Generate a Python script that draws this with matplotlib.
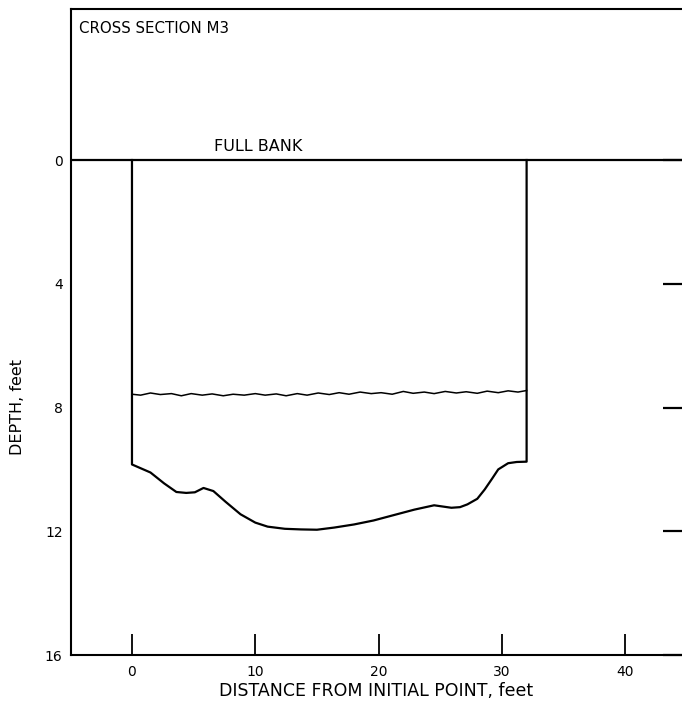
import numpy as np
import matplotlib
matplotlib.use('Agg')
import matplotlib.pyplot as plt

plt.rcParams['font.family'] = ['DejaVu Sans']

# channel bed (distance, depth)
bed_x = [0, 0, 1.5, 2.6, 3.6, 4.4, 5.1, 5.8, 6.6, 7.6, 8.8, 10.0, 11.0, 12.4, 13.7,
         15.0, 16.4, 18.0, 19.6, 21.2, 22.9, 24.5, 25.9, 26.6, 27.2, 28.0, 28.6,
         29.2, 29.7, 30.5, 31.2, 32.0, 32.0]
bed_depth = [0, 9.84, 10.1, 10.45, 10.73, 10.76, 10.74, 10.6, 10.7, 11.05, 11.45, 11.72,
             11.85, 11.92, 11.94, 11.95, 11.88, 11.78, 11.65, 11.48, 11.3, 11.16, 11.24,
             11.22, 11.13, 10.95, 10.65, 10.3, 10.0, 9.8, 9.76, 9.75, 0]

# water surface, slightly wavy
ws_x = [0, 0.7, 1.5, 2.3, 3.2, 4.0, 4.8, 5.7, 6.5, 7.4, 8.2, 9.1, 10.0, 10.8, 11.7,
        12.5, 13.4, 14.2, 15.1, 16.0, 16.8, 17.6, 18.5, 19.4, 20.2, 21.1, 22.0,
        22.8, 23.7, 24.5, 25.4, 26.3, 27.1, 28.0, 28.8, 29.7, 30.5, 31.3, 32.0]
ws_depth = [7.57, 7.6, 7.53, 7.58, 7.55, 7.62, 7.55, 7.6, 7.56, 7.62, 7.57, 7.6, 7.55,
            7.6, 7.56, 7.62, 7.55, 7.6, 7.53, 7.58, 7.52, 7.57, 7.5, 7.55, 7.52, 7.57,
            7.48, 7.54, 7.5, 7.55, 7.48, 7.53, 7.49, 7.54, 7.47, 7.52, 7.46, 7.5, 7.45]

xticks = [0, 10, 20, 30, 40]
yticks = [0, 4, 8, 12, 16]

fig = plt.figure(figsize=(6.82, 7.14), dpi=100)
ax = fig.add_axes([0.104, 0.0826, 0.896, 0.9047])

ax.axhline(0, color='black', lw=1.6)
ax.plot(bed_x, bed_depth, color='black', lw=1.6)
ax.plot(ws_x, ws_depth, color='black', lw=1.1)

ax.set_xlim(-4.95, 44.6)
ax.set_ylim(16, -4.88)

ax.set_xticks(xticks)
ax.set_yticks(yticks)
ax.tick_params(axis='x', direction='in', length=15, width=1.3, pad=7, labelsize=10)
ax.tick_params(axis='y', left=False, right=True, direction='in', length=14,
               width=1.6, pad=6, labelsize=10)

for s in ax.spines.values():
    s.set_linewidth(1.5)
ax.spines['right'].set_visible(False)

ax.text(0.014, 0.97, 'CROSS SECTION M3', transform=ax.transAxes, fontsize=10.8,
        va='center', ha='left')
ax.text(10.2, -0.45, 'FULL BANK', fontsize=11.5, ha='center', va='center')

ax.set_xlabel('DISTANCE FROM INITIAL POINT, feet', fontsize=12.5, labelpad=2)
ax.set_ylabel('DEPTH, feet', fontsize=11.5)
ax.yaxis.set_label_coords(-0.075, 0.384)

fig.savefig('out.png', dpi=100)
